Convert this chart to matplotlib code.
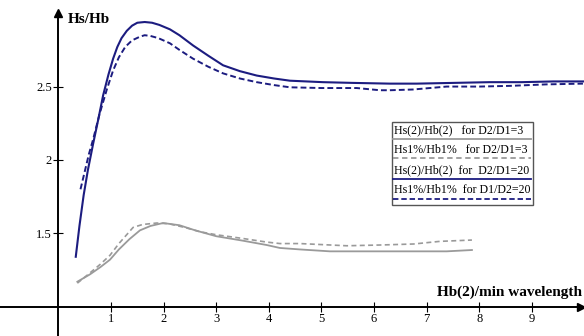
import matplotlib
matplotlib.use("Agg")
import matplotlib.pyplot as plt

plt.rcParams['font.family'] = ['Liberation Serif', 'DejaVu Serif']

# Hs(2)/Hb(2), D2/D1=20 (navy solid)
x_hs2_20 = [0.33, 0.40, 0.48, 0.56, 0.66, 0.76, 0.85, 0.95, 1.04, 1.12, 1.20, 1.30, 1.40, 1.50, 1.64, 1.78,
            1.92, 2.12, 2.30, 2.56, 2.85, 3.13, 3.45, 3.77, 4.10, 4.40, 5.03, 5.60, 6.30, 6.81, 7.50, 8.20,
            8.80, 9.41, 9.97]
y_hs2_20 = [1.34, 1.55, 1.76, 1.93, 2.11, 2.28, 2.44, 2.58, 2.69, 2.77, 2.83, 2.88, 2.915, 2.935, 2.94, 2.935,
            2.92, 2.89, 2.85, 2.78, 2.71, 2.645, 2.605, 2.575, 2.555, 2.54, 2.53, 2.525, 2.52, 2.52, 2.525, 2.53,
            2.53, 2.535, 2.535]

# Hs1%/Hb1%, D1/D2=20 (navy dashed)
x_hs1_20 = [0.42, 0.50, 0.58, 0.66, 0.78, 0.92, 1.04, 1.15, 1.27, 1.40, 1.55, 1.64, 1.75, 1.90, 2.12,
            2.30, 2.56, 2.85, 3.13, 3.45, 3.77, 4.10, 4.40, 5.00, 5.67, 6.11, 6.30, 6.74, 7.38, 8.00,
            8.60, 9.28, 9.97]
y_hs1_20 = [1.80, 1.92, 2.04, 2.14, 2.31, 2.48, 2.61, 2.70, 2.77, 2.815, 2.84, 2.85, 2.845, 2.83, 2.795,
            2.75, 2.69, 2.635, 2.59, 2.555, 2.53, 2.51, 2.495, 2.49, 2.49, 2.475, 2.475, 2.48, 2.50, 2.50,
            2.505, 2.515, 2.52]

# Hs(2)/Hb(2), D2/D1=3 (gray solid)
x_hs2_3 = [0.36, 0.60, 0.80, 0.98, 1.15, 1.35, 1.55, 1.75, 1.99, 2.30, 2.60, 3.00, 3.50, 3.96, 4.21,
           4.59, 5.16, 6.00, 6.80, 7.38, 7.86]
y_hs2_3 = [1.17, 1.22, 1.27, 1.32, 1.39, 1.46, 1.52, 1.55, 1.57, 1.555, 1.52, 1.48, 1.45, 1.42, 1.40,
           1.39, 1.377, 1.377, 1.377, 1.377, 1.386]

# Hs1%/Hb1%, D2/D1=3 (gray dashed)
x_hs1_3 = [0.36, 0.60, 0.80, 0.98, 1.15, 1.42, 1.60, 1.87, 2.10, 2.40, 2.70, 3.00, 3.50, 3.96, 4.21,
           4.59, 5.48, 6.10, 6.75, 7.25, 7.86]
y_hs1_3 = [1.16, 1.23, 1.29, 1.35, 1.43, 1.54, 1.56, 1.57, 1.565, 1.54, 1.51, 1.49, 1.465, 1.44, 1.43,
           1.43, 1.415, 1.42, 1.427, 1.445, 1.454]

legend_labels = ["Hs(2)/Hb(2)   for D2/D1=3", "Hs1%/Hb1%   for D2/D1=3",
                 "Hs(2)/Hb(2)  for  D2/D1=20", "Hs1%/Hb1%  for D1/D2=20"]

navy = '#1c1c80'
gray = '#9a9a9a'

fig = plt.figure(figsize=(5.84, 3.36), dpi=100)
ax = fig.add_axes([0, 0, 1, 1])
ax.set_xlim(-1.11, 9.99)
ax.set_ylim(0.80, 3.09)

ax.plot(x_hs2_3, y_hs2_3, color=gray, lw=1.3)
ax.plot(x_hs1_3, y_hs1_3, color=gray, lw=1.2, ls=(0, (3, 2)))
ax.plot(x_hs2_20, y_hs2_20, color=navy, lw=1.5)
ax.plot(x_hs1_20, y_hs1_20, color=navy, lw=1.4, ls=(0, (3, 1.6)))

# axes through origin-ish
ax.spines['left'].set_position(('data', 0))
ax.spines['bottom'].set_position(('data', 1))
ax.spines['right'].set_visible(False)
ax.spines['top'].set_visible(False)
ax.spines['left'].set_bounds(0.80, 3.0)
for s in ('left', 'bottom'):
    ax.spines[s].set_linewidth(1.4)
ax.plot(0, 3.0, '^k', ms=6, clip_on=False)
ax.plot(9.93, 1, '>k', ms=6, clip_on=False)

ax.set_xticks(range(1, 10))
ax.set_yticks([1.5, 2, 2.5])
ax.set_yticklabels(['1.5', '2', '2.5'])
ax.tick_params(direction='inout', length=7, width=0.8, labelsize=9, pad=1)

ax.text(0.18, 2.96, "Hs/Hb", fontsize=11, fontweight='bold', va='center', ha='left')
ax.text(9.95, 1.10, "Hb(2)/min wavelength", fontsize=11, fontweight='bold', va='center', ha='right')

# hand-drawn legend box
box = plt.Rectangle((0.671, 0.390), 0.242, 0.248, transform=ax.transAxes,
                    fill=False, ec='#555555', lw=1.0)
ax.add_patch(box)
legend_styles = [(gray, '-'), (gray, (0, (3, 2))), (navy, '-'), (navy, (0, (3, 1.6)))]
text_y = [0.613, 0.554, 0.494, 0.435]
line_y = [0.586, 0.529, 0.466, 0.407]
for lab, (c, ls), ty, ly in zip(legend_labels, legend_styles, text_y, line_y):
    ax.text(0.674, ty, lab, transform=ax.transAxes, fontsize=8.6, va='center', ha='left')
    ax.plot([0.673, 0.910], [ly, ly], transform=ax.transAxes, color=c, ls=ls, lw=1.3)

fig.savefig('out.png', dpi=100)
